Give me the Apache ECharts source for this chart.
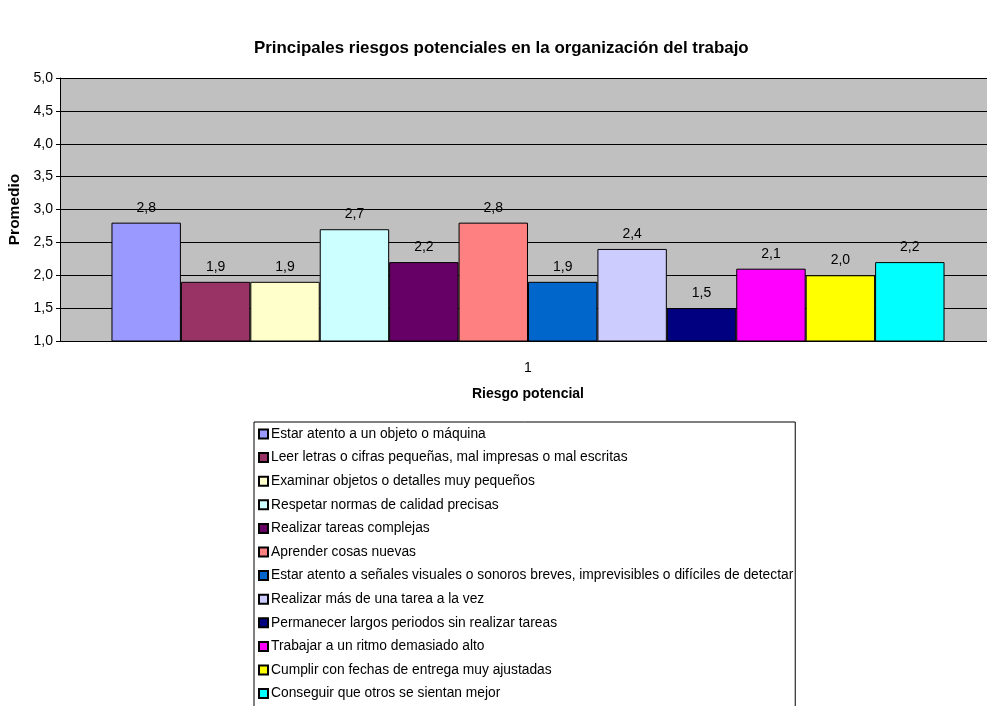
<!DOCTYPE html>
<html>
<head>
<meta charset="utf-8">
<script src="https://cdn.jsdelivr.net/npm/echarts@6/dist/echarts.min.js"></script>
<style>
  html, body { margin: 0; padding: 0; background: #fff; }
  #chartmain { width: 987px; height: 706px; }
</style>
</head>
<body>
<div id="chartmain"></div>
<script>
var categorias = ['1'];
var riesgos = [
  'Estar atento a un objeto o máquina',
  'Leer letras o cifras pequeñas, mal impresas o mal escritas',
  'Examinar objetos o detalles muy pequeños',
  'Respetar normas de calidad precisas',
  'Realizar tareas complejas',
  'Aprender cosas nuevas',
  'Estar atento a señales visuales o sonoros breves, imprevisibles o difíciles de detectar',
  'Realizar más de una tarea a la vez',
  'Permanecer largos periodos sin realizar tareas',
  'Trabajar a un ritmo demasiado alto',
  'Cumplir con fechas de entrega muy ajustadas',
  'Conseguir que otros se sientan mejor'
];
var promedios = [2.8, 1.9, 1.9, 2.7, 2.2, 2.8, 1.9, 2.4, 1.5, 2.1, 2.0, 2.2];
var colores = ['#9999FF', '#993366', '#FFFFCC', '#CCFFFF', '#660066', '#FF8080',
               '#0066CC', '#CCCCFF', '#000080', '#FF00FF', '#FFFF00', '#00FFFF'];

function coma(v) {
  return Number(v).toFixed(1).replace('.', ',');
}

var fuente = 'Liberation Sans, Arial, sans-serif';

var series = [];
for (var i = 0; i < riesgos.length; i++) {
  series.push({
    name: riesgos[i],
    type: 'bar',
    data: [promedios[i]],
    barGap: '0%',
    barCategoryGap: '11%',
    itemStyle: { color: colores[i], borderColor: '#000', borderWidth: 1 },
    label: {
      show: true,
      position: 'top',
      distance: 8,
      color: '#000',
      fontSize: 14,
      fontFamily: fuente,
      formatter: function (p) { return coma(p.value); }
    }
  });
}

var option = {
  animation: false,
  textStyle: { fontFamily: fuente },
  title: {
    text: 'Principales riesgos potenciales en la organización del trabajo',
    left: 249,
    top: 35,
    textStyle: { fontSize: 16.9, fontWeight: 'bold', color: '#000', fontFamily: fuente }
  },
  legend: {
    orient: 'vertical',
    left: 254,
    top: 422,
    height: 320,
    padding: [4, 2, 5, 4],
    itemWidth: 9,
    itemHeight: 9,
    itemGap: 7.6,
    icon: 'rect',
    backgroundColor: '#fff',
    borderColor: '#000',
    borderWidth: 1,
    textStyle: { fontSize: 13.8, color: '#000', fontFamily: fuente, lineHeight: 16, padding: [0, 0, 0, -2] },
    data: riesgos
  },
  grid: {
    left: 60,
    top: 78,
    width: 936,
    height: 263,
    outerBoundsMode: 'none',
    show: true,
    backgroundColor: '#C0C0C0',
    borderWidth: 0
  },
  xAxis: {
    type: 'category',
    data: categorias,
    name: 'Riesgo potencial',
    nameLocation: 'middle',
    nameGap: 46,
    nameTextStyle: { fontSize: 14, fontWeight: 'bold', color: '#000', fontFamily: fuente },
    axisLine: { lineStyle: { color: '#000', width: 1 } },
    axisTick: { show: false },
    axisLabel: { fontSize: 14, color: '#000', margin: 20, fontFamily: fuente }
  },
  yAxis: {
    type: 'value',
    min: 1,
    max: 5,
    interval: 0.5,
    name: 'Promedio',
    nameLocation: 'middle',
    nameGap: 32,
    nameTextStyle: { fontSize: 15.5, fontWeight: 'bold', color: '#000', fontFamily: fuente },
    axisLine: { show: true, lineStyle: { color: '#000', width: 1 } },
    axisTick: { show: true, length: 4, lineStyle: { color: '#000' } },
    splitLine: { show: true, lineStyle: { color: '#000', width: 1 } },
    axisLabel: { fontSize: 14, color: '#000', margin: 7, fontFamily: fuente, formatter: coma }
  },
  series: series
};

var myChart = echarts.init(document.getElementById('chartmain'));
myChart.setOption(option);
</script>
</body>
</html>
